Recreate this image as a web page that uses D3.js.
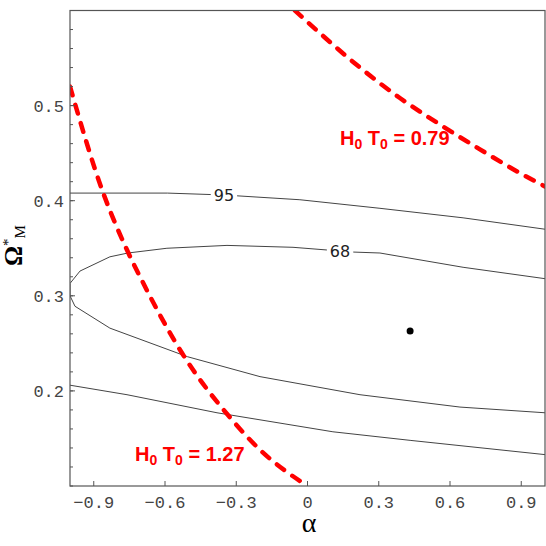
<!DOCTYPE html>
<html lang="en">
<meta charset="UTF-8">
<style>
    body { margin: 0; background: white; }
    .frame { fill: none; stroke: #555; stroke-width: 1.2px; }
    .tick { stroke: #555; stroke-width: 1px; }
    .ticklabel { font-family: "Liberation Mono", monospace; font-size: 17px; fill: #444; }
    .contour { fill: none; stroke: #444; stroke-width: 1px; }
    .clabel { font-family: "DejaVu Sans", sans-serif; font-size: 16px; fill: #222; }
    .hline { fill: none; stroke: #ff0000; stroke-width: 4.5px; stroke-dasharray: 9,10; stroke-linecap: round; }
    .hlabel { font-family: "Liberation Sans", Arial, sans-serif; font-weight: bold; font-size: 20px; fill: #ff0000; }
</style>
<body>
<svg width="546" height="546" id="chart"></svg>
<script src="https://d3js.org/d3.v7.min.js"></script>
<script>
// alpha on x, Omega*_M on y
const xTicks = [-0.9, -0.6, -0.3, 0, 0.3, 0.6, 0.9];
const yTicks = [0.2, 0.3, 0.4, 0.5];
const yMinor = d3.range(0.1, 0.6001, 0.02);

// 95% contour, two open branches
const c95upper = [[-1.0, 0.408], [-0.861, 0.408], [-0.59, 0.408], [-0.352, 0.406], [-0.032, 0.401], [0.305, 0.392], [0.655, 0.382], [1.0, 0.370]];
const c95lower = [[-1.0, 0.206], [-0.76, 0.196], [-0.381, 0.177], [0.107, 0.157], [0.432, 0.148], [1.0, 0.133]];
// 68% contour (lower branch then upper branch)
const c68 = [[1.0, 0.177], [0.642, 0.183], [0.221, 0.196], [-0.2, 0.215], [-0.506, 0.236], [-0.832, 0.266], [-0.979, 0.289], [-1.0, 0.300],
             [-1.0, 0.313], [-0.958, 0.326], [-0.832, 0.341], [-0.756, 0.345], [-0.592, 0.350], [-0.339, 0.353], [-0.061, 0.351], [0.192, 0.346], [0.305, 0.345], [0.655, 0.330], [1.0, 0.318]];

// H0 T0 curves
const h127 = [[-1.0, 0.520], [-0.86, 0.408], [-0.756, 0.346], [-0.697, 0.316], [-0.524, 0.238], [-0.326, 0.172], [-0.2, 0.138], [0, 0.100]];
const h079 = [[-0.053, 0.600], [0.053, 0.576], [0.221, 0.540], [0.389, 0.508], [0.558, 0.480], [0.726, 0.454], [0.895, 0.429], [1.0, 0.415]];

const bestFit = [0.432, 0.263];
const contourLabels = [{text: "95", a: -0.352, v: 0.406}, {text: "68", a: 0.137, v: 0.347}];
const curveLabels = [{val: "0.79", a: 0.137, v: 0.4586}, {val: "1.27", a: -0.726, v: 0.126}];

const svg = d3.select('#chart');
const pLeft = 70, pRight = 545, pTop = 10.5, pBottom = 486;

const x = d3.scaleLinear().domain([-1, 1]).range([pLeft, pRight]);
const y = d3.scaleLinear().domain([0.1, 0.6]).range([pBottom, pTop]);

const line = d3.line().x(d => x(d[0])).y(d => y(d[1]));
const smooth = d3.line().x(d => x(d[0])).y(d => y(d[1])).curve(d3.curveMonotoneX);

svg.append('clipPath').attr('id', 'clip')
    .append('rect').attr('x', pLeft).attr('y', pTop).attr('width', pRight - pLeft).attr('height', pBottom - pTop);

const plot = svg.append('g').attr('clip-path', 'url(#clip)');

[c95upper, c95lower, c68].forEach(c => {
    plot.append('path').attr('class', 'contour').attr('d', line(c));
});

// contour labels sit on a white patch over the line
contourLabels.forEach(l => {
    const g = svg.append('g');
    const r = g.append('rect').attr('fill', 'white');
    const t = g.append('text').attr('class', 'clabel')
        .attr('x', x(l.a)).attr('y', y(l.v))
        .attr('text-anchor', 'middle').attr('dy', '0.36em')
        .text(l.text);
    const bb = t.node().getBBox();
    r.attr('x', bb.x - 3).attr('y', bb.y + 2).attr('width', bb.width + 6).attr('height', bb.height - 4);
});

plot.append('path').attr('class', 'hline').attr('d', smooth(h127));
plot.append('path').attr('class', 'hline').attr('d', smooth(h079));

svg.append('circle').attr('cx', x(bestFit[0])).attr('cy', y(bestFit[1])).attr('r', 3.5).attr('fill', 'black');

curveLabels.forEach(l => {
    const t = svg.append('text').attr('class', 'hlabel').attr('x', x(l.a)).attr('y', y(l.v));
    t.append('tspan').text('H');
    t.append('tspan').attr('font-size', '14px').attr('dy', 4).text('0');
    t.append('tspan').attr('dy', -4).text(' T');
    t.append('tspan').attr('font-size', '14px').attr('dy', 4).text('0');
    t.append('tspan').attr('dy', -4).text(' = ' + l.val);
});

// frame
svg.append('rect').attr('class', 'frame')
    .attr('x', pLeft).attr('y', pTop).attr('width', pRight - pLeft).attr('height', pBottom - pTop);

// x ticks
xTicks.forEach(t => {
    svg.append('line').attr('class', 'tick')
        .attr('x1', x(t)).attr('x2', x(t)).attr('y1', pBottom).attr('y2', pBottom - 5);
    svg.append('text').attr('class', 'ticklabel')
        .attr('x', x(t)).attr('y', 508).attr('text-anchor', 'middle')
        .text(t === 0 ? '0' : d3.format('.1f')(t).replace('-', '\u2212'));
});

// y ticks
yMinor.forEach(t => {
    svg.append('line').attr('class', 'tick')
        .attr('x1', pLeft).attr('x2', pLeft + 3).attr('y1', y(t)).attr('y2', y(t));
});
yTicks.forEach(t => {
    svg.append('line').attr('class', 'tick')
        .attr('x1', pLeft).attr('x2', pLeft + 5).attr('y1', y(t)).attr('y2', y(t));
    svg.append('text').attr('class', 'ticklabel')
        .attr('x', 64).attr('y', y(t)).attr('dy', '0.35em').attr('text-anchor', 'end')
        .text(d3.format('.1f')(t));
});

// axis titles
svg.append('text')
    .attr('x', 309).attr('y', 532).attr('text-anchor', 'middle')
    .attr('font-family', 'Liberation Serif, serif').attr('font-size', '28px')
    .text('\u03B1');

const yl = svg.append('text')
    .attr('transform', 'translate(22,266) rotate(-90)')
    .attr('font-family', 'Liberation Serif, serif').attr('font-size', '25px').attr('font-weight', 'bold');
yl.append('tspan').text('\u03A9');
yl.append('tspan').attr('font-size', '15px').attr('font-weight', 'normal').attr('dy', -9).text('*');
yl.append('tspan').attr('font-size', '15px').attr('font-weight', 'normal').attr('dy', 12).text('M');
</script>
</body>
</html>
